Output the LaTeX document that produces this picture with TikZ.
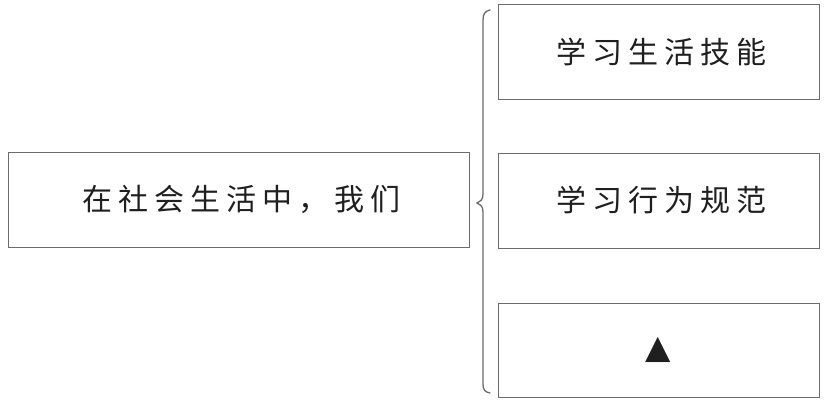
\documentclass[tikz,border=0pt]{standalone}
\usepackage{fontspec}
\newfontfamily\cjk[LetterSpace=20]{Noto Sans CJK SC}
\newfontfamily\symfont{DejaVu Sans}
\definecolor{boxline}{gray}{0.42}
\definecolor{ink}{gray}{0.12}
\begin{document}
\begin{tikzpicture}[x=1pt,y=-1pt,
  boxstyle/.style={draw=boxline,line width=0.9pt,minimum height=95pt,inner sep=0pt,text=ink,font=\cjk\fontsize{30}{36}\selectfont},
  bracestyle/.style={draw=boxline,line width=1.3pt,line cap=round}]
\useasboundingbox (0,0) rectangle (824,400);
\node[boxstyle,minimum width=461pt,minimum height=95pt] (left) at (238.5,199.5) {\hspace*{6pt}在社会生活中，我们};
\node[boxstyle,minimum width=321pt,minimum height=95pt] (b1) at (658.5,51.5) {\hspace*{6pt}学习生活技能};
\node[boxstyle,minimum width=321pt,minimum height=95pt] (b2) at (658.5,200.5) {\hspace*{6pt}学习行为规范};
\node[boxstyle,minimum width=321pt,minimum height=94pt,font=\symfont\fontsize{33}{36}\selectfont] (b3) at (658.5,350) {▲};
\draw[bracestyle] (490,10) .. controls (485,11) and (483,14) .. (483,20)
  -- (483,194) .. controls (483,200) and (480,202) .. (477,203)
  .. controls (480,204) and (483,206) .. (483,212)
  -- (483,384) .. controls (483,390) and (485,392) .. (490,393);
\end{tikzpicture}
\end{document}
